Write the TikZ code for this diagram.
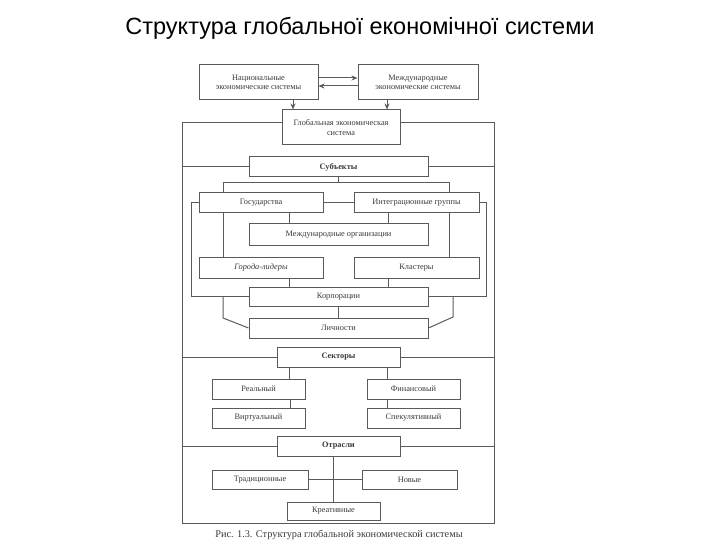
\documentclass[tikz,border=0pt]{standalone}
\usepackage{fontspec}
\setmainfont{Liberation Serif}
\newfontfamily\titlefont{Liberation Sans}
\usetikzlibrary{arrows.meta}
\definecolor{lncol}{HTML}{5A5A5A}
\definecolor{txcol}{HTML}{3A3A3A}
\begin{document}
\begin{tikzpicture}[x=1pt,y=-1pt,
  ln/.style={draw=lncol,line width=1pt},
  bx/.style={ln,fill=white,inner sep=1pt,align=center,text=txcol,
    font=\fontsize{8.3}{9.5}\selectfont},
  hd/.style={bx,font=\fontsize{8.3}{9.5}\selectfont\bfseries},
  arr/.style={ln,-{Stealth[length=6pt,width=5pt]}}]
\useasboundingbox (0,0) rectangle (720,540);
\node[font=\titlefont\fontsize{23.5}{26}\selectfont,text=black] (title) at (360,28) {Структура глобальної економічної системи};
% frame corners
\coordinate (fTL) at (182,123);
\coordinate (fBR) at (494,523);
\coordinate (lpL) at (191,0);
\coordinate (lpR) at (486,0);
\coordinate (bL) at (223,183);
\coordinate (bR) at (449,183);
\coordinate (dL) at (223,318);
\coordinate (dR) at (453,317);
% top boxes
\node[bx,minimum width=119,minimum height=35] (nat) at (258.5,82.5) {Национальные\\экономические системы};
\node[bx,minimum width=120,minimum height=35] (mezh) at (418,82.5) {Международные\\экономические системы};
% frame
\draw[ln] (341,123) -- (fTL) -- (fTL |- fBR) -- (fBR) -- (fBR |- fTL) -- (341,123);
\node[bx,minimum width=118,minimum height=35] (glob) at (341,127.5) {Глобальная экономическая\\система};
\draw[arr] (nat.east |- 0,78) -- (mezh.west |- 0,78);
\draw[arr] (mezh.west |- 0,86) -- (nat.east |- 0,86);
\draw[arr] (nat.south -| 293,0) -- (glob.north -| 293,0);
\draw[arr] (mezh.south -| 387,0) -- (glob.north -| 387,0);
% subjects
\node[hd,minimum width=179,minimum height=20] (subj) at (338.5,167) {Субъекты};
\draw[ln] (fTL |- subj.west) -- (subj.west);
\draw[ln] (subj.east) -- (fBR |- subj.east);
\node[bx,minimum width=124,minimum height=20] (gos) at (261,203) {Государства};
\node[bx,minimum width=125,minimum height=20] (integ) at (416.5,203) {Интеграционные группы};
\node[bx,minimum width=179,minimum height=21] (mo) at (338.5,234.5) {Международные организации};
\node[bx,minimum width=124,minimum height=21,font=\fontsize{8.3}{9.5}\selectfont\itshape] (gor) at (261,267.5) {Города-лидеры};
\node[bx,minimum width=125,minimum height=21] (klas) at (416.5,267.5) {Кластеры};
\node[bx,minimum width=179,minimum height=19] (korp) at (338.5,296.5) {Корпорации};
\node[bx,minimum width=179,minimum height=20] (lich) at (338.5,328) {Личности};
\draw[ln] (subj.south) -- (subj.south |- bL);
\draw[ln] (gos.north -| bL) -- (bL) -- (bR) -- (integ.north -| bR);
\draw[ln] (gos.east) -- (integ.west);
\draw[ln] (gos.south -| bL) -- (gor.north -| bL);
\draw[ln] (integ.south -| bR) -- (klas.north -| bR);
\draw[ln] (gos.south -| 289,0) -- (mo.north -| 289,0);
\draw[ln] (integ.south -| 388,0) -- (mo.north -| 388,0);
\draw[ln] (gor.south -| 289,0) -- (korp.north -| 289,0);
\draw[ln] (klas.south -| 388,0) -- (korp.north -| 388,0);
\draw[ln] (korp.south) -- (lich.north);
\draw[ln] (gos.west) -- (gos.west -| lpL) -- (korp.west -| lpL) -- (korp.west);
\draw[ln] (integ.east) -- (integ.east -| lpR) -- (korp.east -| lpR) -- (korp.east);
\draw[ln] (korp.west -| dL) -- (dL) -- (lich.west);
\draw[ln] (korp.east -| dR) -- (dR) -- (lich.east);
% sectors
\node[hd,minimum width=123,minimum height=20] (sekt) at (338.5,357) {Секторы};
\draw[ln] (fTL |- sekt.west) -- (sekt.west);
\draw[ln] (sekt.east) -- (fBR |- sekt.east);
\node[bx,minimum width=93,minimum height=20] (real) at (258.5,389) {Реальный};
\node[bx,minimum width=93,minimum height=20] (fin) at (413.5,389) {Финансовый};
\node[bx,minimum width=93,minimum height=20] (virt) at (258.5,418) {Виртуальный};
\node[bx,minimum width=93,minimum height=20] (spek) at (413.5,418) {Спекулятивный};
\draw[ln] (sekt.south -| 289,0) -- (real.north -| 289,0);
\draw[ln] (sekt.south -| 387,0) -- (fin.north -| 387,0);
\draw[ln] (real.south -| 290,0) -- (virt.north -| 290,0);
\draw[ln] (fin.south -| 387,0) -- (spek.north -| 387,0);
% branches
\node[hd,minimum width=123,minimum height=20] (otr) at (338.5,446) {Отрасли};
\draw[ln] (fTL |- otr.west) -- (otr.west);
\draw[ln] (otr.east) -- (fBR |- otr.east);
\node[bx,minimum width=96,minimum height=19] (trad) at (260,479.5) {Традиционные};
\node[bx,minimum width=95,minimum height=19] (nov) at (409.5,479.5) {Новые};
\node[bx,minimum width=93,minimum height=18] (krea) at (333.5,511) {Креативные};
\draw[ln] (krea.north) -- (krea.north |- otr.south);
\draw[ln] (trad.east) -- (nov.west);
% caption
\node[text=txcol,font=\fontsize{10.3}{12}\selectfont,inner sep=0pt] (cap) at (339,534.5) {Рис. 1.3. Структура глобальной экономической системы};
\end{tikzpicture}
\end{document}
